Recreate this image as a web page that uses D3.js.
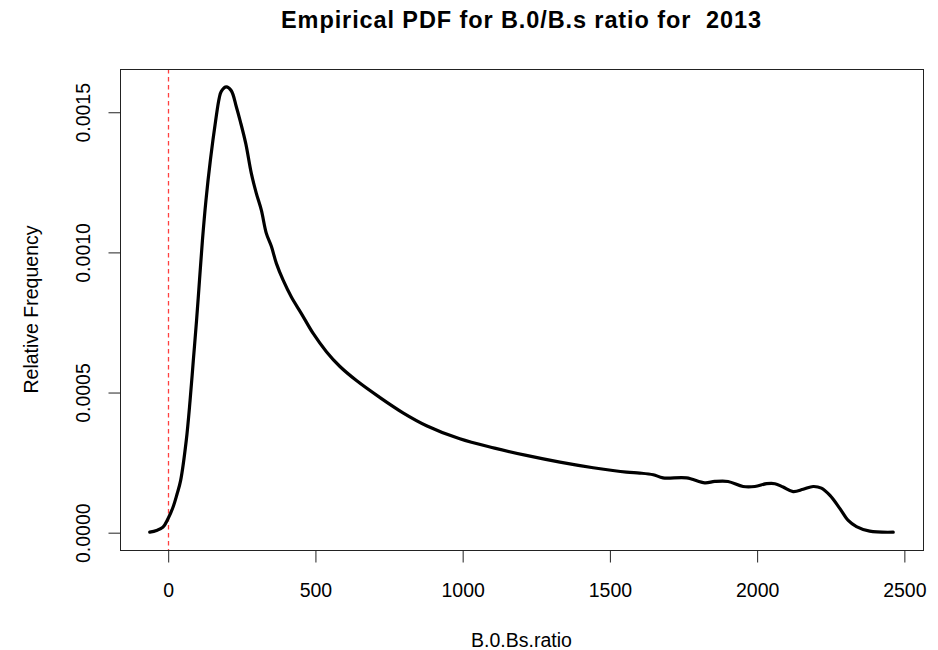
<!DOCTYPE html>
<html>
<head>
<meta charset="utf-8">
<script src="https://cdn.jsdelivr.net/npm/d3@7"></script>
<style>
  html, body { margin: 0; padding: 0; background: #fff; }
  svg { display: block; }
  text { font-family: "Liberation Sans", Arial, sans-serif; fill: #000; }
</style>
</head>
<body>
<svg id="chart" width="938" height="650"></svg>
<script>
// ---- data ----
const title = "Empirical PDF for B.0/B.s ratio for  2013";
const xLabel = "B.0.Bs.ratio";
const yLabel = "Relative Frequency";
const xTicks = [0, 500, 1000, 1500, 2000, 2500];
const yTicks = [0, 0.0005, 0.0010, 0.0015];
const yTickLabels = ["0.0000", "0.0005", "0.0010", "0.0015"];
const refLineX = 0;

const ratio = [-61, -38, -16, 1, 18, 32, 44, 63, 76, 87, 98, 108, 118, 130, 145, 163, 175,
  182, 199, 216, 233, 247, 265, 284, 301, 318, 335, 352,
  369, 392, 420, 454, 494, 539, 584, 641, 720, 799, 879, 992, 1110, 1218, 1332,
  1445, 1558, 1603, 1649, 1682, 1762, 1824, 1858, 1903, 1954, 1994, 2034, 2062, 2090,
  2124, 2158, 2192, 2220, 2249, 2283, 2311, 2339, 2384, 2464];
const density = [0, 0.000006, 0.000018, 0.000048, 0.000089, 0.000137, 0.000185, 0.000327,
  0.00047, 0.000613, 0.000756, 0.000899, 0.001042, 0.001185, 0.001328, 0.00147, 0.001549,
  0.001573, 0.001589, 0.001575, 0.001518, 0.001464, 0.001387, 0.00128, 0.001209, 0.001149,
  0.001066, 0.00102,
  0.000959, 0.000899, 0.000839, 0.00078, 0.000709, 0.000644, 0.000592, 0.000541,
  0.000481, 0.000426, 0.00038, 0.000333, 0.0003, 0.000274, 0.00025,
  0.000230, 0.000214, 0.000211, 0.000205, 0.000194, 0.000194, 0.000176, 0.000181,
  0.000181, 0.000163, 0.000163, 0.000173, 0.000173, 0.000161, 0.000145, 0.000153,
  0.000163, 0.000157, 0.000131, 0.000084, 0.000042, 0.00002, 0.0000036, 0];

// ---- layout ----
const box = { left: 120, right: 923, top: 69, bottom: 550 };
const svg = d3.select("#chart");

function rDomain(vals) {
  const [a, b] = d3.extent(vals);
  const pad = (b - a) * 0.04;
  return [a - pad, b + pad];
}

const x = d3.scaleLinear().domain(rDomain(ratio)).range([box.left, box.right]);
const y = d3.scaleLinear().domain(rDomain(density)).range([box.bottom, box.top]);

const pts = ratio.map((r, i) => [r, density[i]]);

// reference line
const rx = Math.round(x(refLineX)) + 0.5;
svg.append("line")
  .attr("x1", rx).attr("x2", rx)
  .attr("y1", box.top).attr("y2", box.bottom)
  .attr("stroke", "#ff4040").attr("stroke-width", 1.3)
  .attr("stroke-dasharray", "4.5,3.5");

// density curve
svg.append("path")
  .datum(pts)
  .attr("fill", "none")
  .attr("stroke", "#000")
  .attr("stroke-width", 3.2)
  .attr("stroke-linejoin", "round")
  .attr("stroke-linecap", "round")
  .attr("d", d3.line().x(d => x(d[0])).y(d => y(d[1])).curve(d3.curveCatmullRom.alpha(0.5)));

// box
svg.append("rect")
  .attr("x", box.left + 0.5).attr("y", box.top + 0.5)
  .attr("width", box.right - box.left).attr("height", box.bottom - box.top)
  .attr("fill", "none").attr("stroke", "#222").attr("stroke-width", 1);

// x axis
const xAxis = d3.axisBottom(x).tickValues(xTicks).tickSize(12).tickPadding(0).tickFormat(d3.format("d"));
const gx = svg.append("g").attr("transform", `translate(0.5,${box.bottom + 0.5})`).call(xAxis);
gx.select(".domain").attr("d", `M${x(xTicks[0])},0H${x(xTicks[xTicks.length - 1])}`).attr("stroke", "#222");
gx.selectAll(".tick line").attr("stroke", "#222");
gx.selectAll(".tick text").attr("y", 46).attr("dy", null)
  .style("font-size", "19.5px").style("font-family", "Liberation Sans, Arial, sans-serif").attr("fill", "#000");

// y axis
const yAxis = d3.axisLeft(y).tickValues(yTicks).tickSize(12).tickFormat((d, i) => yTickLabels[i]);
const gy = svg.append("g").attr("transform", `translate(${box.left + 0.5},0.5)`).call(yAxis);
gy.select(".domain").attr("d", `M0,${y(yTicks[0])}V${y(yTicks[yTicks.length - 1])}`).attr("stroke", "#222");
gy.selectAll(".tick line").attr("stroke", "#222");
gy.selectAll(".tick text")
  .attr("x", null).attr("dy", null)
  .attr("text-anchor", "middle")
  .attr("transform", "translate(-31,0) rotate(-90)")
  .style("font-size", "19.5px").style("font-family", "Liberation Sans, Arial, sans-serif").attr("fill", "#000");

// title
svg.append("text")
  .attr("x", (box.left + box.right) / 2).attr("y", 27.5)
  .attr("text-anchor", "middle")
  .attr("xml:space", "preserve")
  .style("white-space", "pre")
  .style("font-size", "23.5px").style("font-weight", "bold")
  .style("letter-spacing", "0.9px")
  .text(title);

// axis titles
svg.append("text")
  .attr("x", (box.left + box.right) / 2).attr("y", 647)
  .attr("text-anchor", "middle")
  .style("font-size", "19.5px")
  .text(xLabel);

svg.append("text")
  .attr("transform", `translate(38,${(box.top + box.bottom) / 2}) rotate(-90)`)
  .attr("text-anchor", "middle")
  .style("font-size", "19.5px")
  .text(yLabel);
</script>
</body>
</html>
